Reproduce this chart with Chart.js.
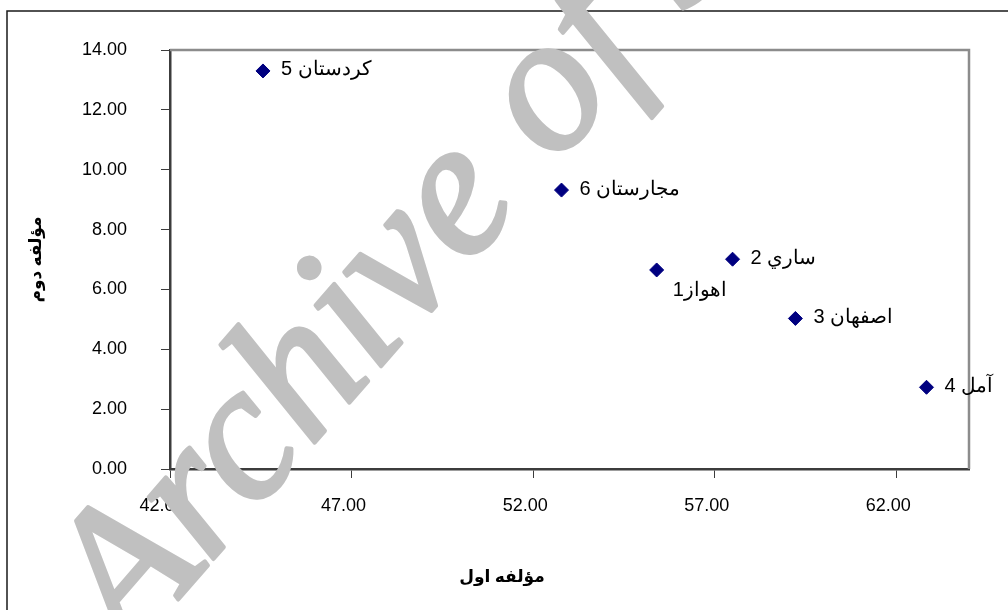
<!DOCTYPE html>
<html>
<head>
<meta charset="utf-8">
<script src="https://cdn.jsdelivr.net/npm/chart.js@4.4.0/dist/chart.umd.min.js"></script>
<style>
  html, body { margin: 0; padding: 0; background: #fff; }
  canvas { display: block; }
</style>
</head>
<body>
<canvas id="chart" width="1008" height="610"></canvas>
<script>
// city labels and the two factor scores
const cityNames = ['اهواز1', 'ساري 2', 'اصفهان 3', 'آمل 4', 'كردستان 5', 'مجارستان 6'];
const factor1 = [55.40, 57.49, 59.22, 62.83, 44.56, 52.78];
const factor2 = [6.65, 7.01, 5.03, 2.73, 13.30, 9.32];
const xTicks = [42, 47, 52, 57, 62];
const yTicks = [0, 2, 4, 6, 8, 10, 12, 14];
const xTitle = 'مؤلفه اول';
const yTitle = 'مؤلفه دوم';
const watermark = 'Archive of SID';

const points = factor1.map((x, i) => ({ x: x, y: factor2[i] }));
const tickFont = { family: '"Liberation Sans", Arial, sans-serif', size: 18 };

const decorPlugin = {
  id: 'decor',
  beforeDraw(chart) {
    const ctx = chart.ctx;
    ctx.save();
    ctx.fillStyle = '#fff';
    ctx.fillRect(0, 0, chart.width, chart.height);
    // outer frame (only left and top are inside the picture)
    ctx.strokeStyle = '#1a1a1a';
    ctx.lineWidth = 1.5;
    ctx.beginPath();
    ctx.moveTo(7, chart.height);
    ctx.lineTo(7, 11);
    ctx.lineTo(chart.width, 11);
    ctx.stroke();
    ctx.restore();
  },
  afterDatasetsDraw(chart) {
    const ctx = chart.ctx;
    const a = chart.chartArea;
    ctx.save();
    // plot area top + right edge
    ctx.strokeStyle = '#8c8c8c';
    ctx.lineWidth = 2.5;
    ctx.beginPath();
    ctx.moveTo(a.left, a.top);
    ctx.lineTo(a.right, a.top);
    ctx.lineTo(a.right, a.bottom);
    ctx.stroke();

    // point labels
    const meta = chart.getDatasetMeta(0);
    ctx.fillStyle = '#000';
    ctx.font = '20px "Liberation Sans", Arial, sans-serif';
    ctx.textBaseline = 'middle';
    ctx.textAlign = 'left';
    meta.data.forEach((pt, i) => {
      if (i === 0) {
        ctx.fillText(cityNames[i], pt.x + 16, pt.y + 21);
      } else {
        ctx.fillText(cityNames[i], pt.x + 18, pt.y - 1);
      }
    });

    // axis titles
    ctx.font = 'bold 17px "Liberation Serif", "DejaVu Sans", serif';
    ctx.textAlign = 'center';
    ctx.fillText(xTitle, 502, 578);
    ctx.translate(37, (a.top + a.bottom) / 2);
    ctx.rotate(-Math.PI / 2);
    ctx.fillText(yTitle, 0, 0);
    ctx.restore();
  },
  afterDraw(chart) {
    const ctx = chart.ctx;
    ctx.save();
    ctx.translate(130, 655);
    ctx.rotate(-49 * Math.PI / 180);
    ctx.font = 'italic 195px "Liberation Serif", "DejaVu Serif", serif';
    ctx.fillStyle = '#c0c0c0';
    ctx.strokeStyle = '#c0c0c0';
    ctx.lineWidth = 4;
    ctx.lineJoin = 'round';
    ctx.textBaseline = 'alphabetic';
    ctx.fillText(watermark, 0, 0);
    ctx.strokeText(watermark, 0, 0);
    ctx.restore();
  }
};

new Chart(document.getElementById('chart'), {
  type: 'scatter',
  data: {
    datasets: [{
      label: 'cities',
      data: points,
      pointStyle: 'rectRot',
      pointRadius: 7,
      pointHoverRadius: 7,
      backgroundColor: '#000080',
      borderColor: '#000080',
      borderWidth: 1
    }]
  },
  options: {
    responsive: false,
    animation: false,
    devicePixelRatio: 1,
    layout: { padding: { left: 0, top: 50, right: 39, bottom: 0 } },
    plugins: {
      legend: { display: false },
      tooltip: { enabled: false }
    },
    scales: {
      x: {
        type: 'linear',
        min: 42,
        max: 64,
        afterBuildTicks: s => { s.ticks = xTicks.map(v => ({ value: v })); },
        afterFit: s => { s.height = 610 - 469; },
        border: { color: '#3c3c3c', width: 2.5 },
        grid: { drawOnChartArea: false, drawTicks: true, tickLength: 9, color: '#3c3c3c', lineWidth: 1 },
        ticks: {
          color: '#000',
          font: tickFont,
          padding: 17,
          labelOffset: -8,
          maxRotation: 0,
          callback: v => v.toFixed(2)
        }
      },
      y: {
        type: 'linear',
        min: 0,
        max: 14,
        afterBuildTicks: s => { s.ticks = yTicks.map(v => ({ value: v })); },
        afterFit: s => { s.width = 170; },
        border: { color: '#3c3c3c', width: 2.5 },
        grid: { drawOnChartArea: false, drawTicks: true, tickLength: 9, color: '#3c3c3c', lineWidth: 1 },
        ticks: {
          color: '#000',
          font: tickFont,
          padding: 34,
          callback: v => v.toFixed(2)
        }
      }
    }
  },
  plugins: [decorPlugin]
});
</script>
</body>
</html>
